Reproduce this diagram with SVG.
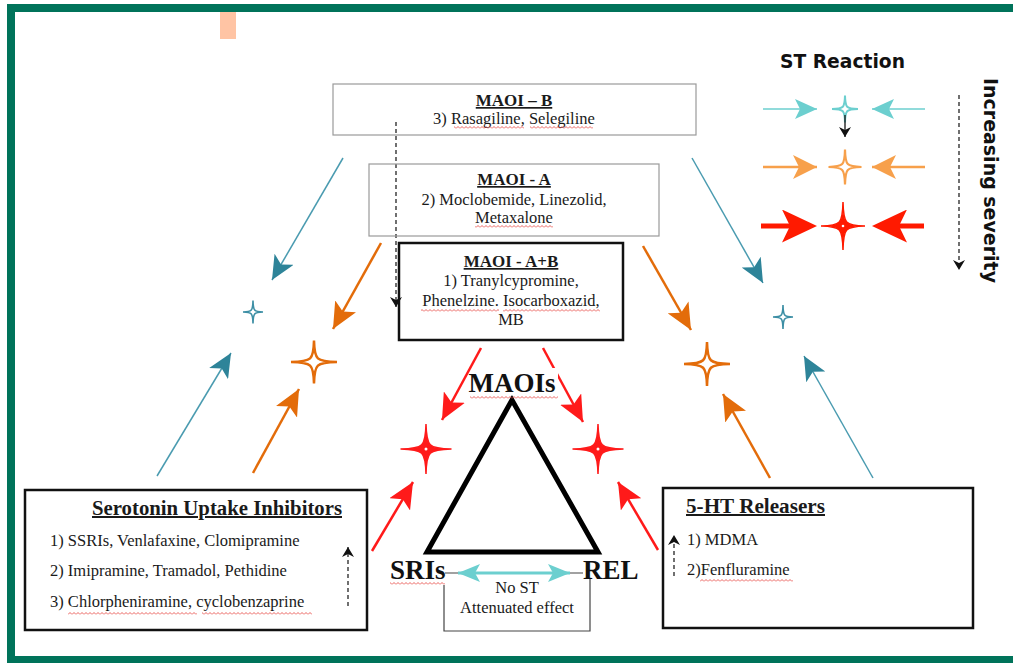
<svg xmlns="http://www.w3.org/2000/svg" width="1013" height="663" viewBox="0 0 1013 663">
<style>
.t{font-family:"Liberation Serif","Times New Roman",serif;font-size:16.5px;fill:#1a1a1a}
.h{font-weight:bold;text-decoration:underline;font-size:17px}
.hh{font-weight:bold;text-decoration:underline;font-size:20px}
.big{font-family:"Liberation Serif","Times New Roman",serif;font-size:27px;font-weight:bold;fill:#111}
.sans{font-family:"DejaVu Sans","Liberation Sans",sans-serif;font-weight:bold;fill:#111}
.teal{stroke:#4a9bb0;stroke-width:1.5;fill:none}
.orange{stroke:#e36c0a;stroke-width:2.5;fill:none}
.red{stroke:#ff1a1a;stroke-width:2.5;fill:none}
.dash{stroke:#111;stroke-width:1.2;stroke-dasharray:4 3;fill:none}
.box{fill:none;stroke:#9a9a9a;stroke-width:1.2}
.bbox{fill:none;stroke:#111;stroke-width:2.5}
.wv{fill:url(#wv)}
</style>
<defs>
<pattern id="wv" width="4" height="3" patternUnits="userSpaceOnUse"><path d="M0,2.5 L2,0.5 L4,2.5" stroke="#e53935" stroke-width="0.8" fill="none"/></pattern>
<path id="star" d="M0,-1 C0.02,-0.1 0.1,-0.02 1,0 C0.1,0.02 0.02,0.1 0,1 C-0.02,0.1 -0.1,0.02 -1,0 C-0.1,-0.02 -0.02,-0.1 0,-1 Z" vector-effect="non-scaling-stroke" stroke-linejoin="miter"/>
<marker id="mTeal" markerUnits="userSpaceOnUse" viewBox="0 0 24 22" markerWidth="24" markerHeight="22" refX="24" refY="11" orient="auto"><path d="M0,0 L24,11 L0,22 L6,11 Z" fill="#2e8499"/></marker>
<marker id="mOrange" markerUnits="userSpaceOnUse" viewBox="0 0 26 24" markerWidth="26" markerHeight="24" refX="26" refY="12" orient="auto"><path d="M0,0 L26,12 L0,24 L6,12 Z" fill="#e36c0a"/></marker>
<marker id="mRed" markerUnits="userSpaceOnUse" viewBox="0 0 26 24" markerWidth="26" markerHeight="24" refX="26" refY="12" orient="auto"><path d="M0,0 L26,12 L0,24 L6,12 Z" fill="#ff1a1a"/></marker>
<marker id="mCyanL" markerUnits="userSpaceOnUse" viewBox="0 0 22 20" markerWidth="22" markerHeight="20" refX="22" refY="10" orient="auto"><path d="M0,0 L22,10 L0,20 L5,10 Z" fill="#6ccfcf"/></marker>
<marker id="mOrangeL" markerUnits="userSpaceOnUse" viewBox="0 0 24 24" markerWidth="24" markerHeight="24" refX="24" refY="12" orient="auto"><path d="M0,0 L24,12 L0,24 L6,12 Z" fill="#f7a04b"/></marker>
<marker id="mRedL" markerUnits="userSpaceOnUse" viewBox="0 0 35 33" markerWidth="35" markerHeight="33" refX="20" refY="16.5" orient="auto"><path d="M0,0 L35,16.5 L0,33 L8,16.5 Z" fill="#ff1a00"/></marker>
<marker id="mCyan2" markerUnits="userSpaceOnUse" viewBox="0 0 22 18" markerWidth="22" markerHeight="18" refX="22" refY="9" orient="auto-start-reverse"><path d="M0,0 L22,9 L0,18 L5,9 Z" fill="#6ccfcf"/></marker>
<marker id="mBlk" markerUnits="userSpaceOnUse" viewBox="0 0 10 12" markerWidth="10" markerHeight="12" refX="10" refY="6" orient="auto"><path d="M0,0 L10,6 L0,12 L3,6 Z" fill="#111"/></marker>
</defs>

<rect width="1013" height="663" fill="#fff"/>
<rect x="11" y="8" width="1010" height="652" fill="none" stroke="#00735a" stroke-width="8"/>
<rect x="220" y="12" width="16" height="27" fill="#ffc4a4"/>

<g id="connectors">
  <line class="teal" x1="343" y1="158" x2="272" y2="280" marker-end="url(#mTeal)"/>
  <line class="teal" x1="157" y1="476" x2="231" y2="353" marker-end="url(#mTeal)"/>
  <line class="teal" x1="692" y1="158" x2="763" y2="283" marker-end="url(#mTeal)"/>
  <line class="teal" x1="873" y1="478" x2="804" y2="356" marker-end="url(#mTeal)"/>
  <line class="orange" x1="381" y1="243" x2="333" y2="329" marker-end="url(#mOrange)"/>
  <line class="orange" x1="253" y1="473" x2="299" y2="389" marker-end="url(#mOrange)"/>
  <line class="orange" x1="643" y1="246" x2="691" y2="330" marker-end="url(#mOrange)"/>
  <line class="orange" x1="770" y1="478" x2="723" y2="394" marker-end="url(#mOrange)"/>
  <line class="red" x1="481" y1="348" x2="442" y2="420" marker-end="url(#mRed)"/>
  <line class="red" x1="543" y1="348" x2="583" y2="422" marker-end="url(#mRed)"/>
  <line class="red" x1="372" y1="551" x2="413" y2="482" marker-end="url(#mRed)"/>
  <line class="red" x1="658" y1="550" x2="618" y2="482" marker-end="url(#mRed)"/>
  <line class="dash" x1="396" y1="122" x2="396" y2="307" marker-end="url(#mBlk)"/>
  <line class="dash" x1="348" y1="606" x2="348" y2="547" marker-end="url(#mBlk)"/>
  <line class="dash" x1="674" y1="576" x2="674" y2="535" marker-end="url(#mBlk)"/>
</g>

<g id="stars">
  <use href="#star" transform="translate(253,312) scale(10,11.5)" fill="#fff" stroke="#3d8fa5" stroke-width="1.6"/>
  <use href="#star" transform="translate(783,317) scale(10,12)" fill="#fff" stroke="#3d8fa5" stroke-width="1.6"/>
  <use href="#star" transform="translate(314,362) scale(23,21.5)" fill="#fff" stroke="#e36c0a" stroke-width="2.5"/>
  <use href="#star" transform="translate(707,364) scale(23,22)" fill="#fff" stroke="#e36c0a" stroke-width="2.5"/>
  <use href="#star" transform="translate(426,449) scale(25.5,25)" fill="#ff1a1a" stroke="#ff1a1a" stroke-width="1.5"/>
  <use href="#star" transform="translate(598,449) scale(25.5,25)" fill="#ff1a1a" stroke="#ff1a1a" stroke-width="1.5"/>
  <circle cx="426" cy="449" r="1.5" fill="#fff"/>
  <circle cx="598" cy="449" r="1.5" fill="#fff"/>
</g>

<g id="maoi-b">
  <rect class="box" x="333" y="84" width="363" height="51"/>
  <text class="t h" x="514" y="106" text-anchor="middle">MAOI – B</text>
  <text class="t" x="514" y="124" text-anchor="middle">3) Rasagiline, Selegiline</text>
  <rect class="wv" x="454" y="126" width="70" height="3"/>
  <rect class="wv" x="530" y="126" width="63" height="3"/>
</g>

<g id="maoi-a">
  <rect class="box" x="369" y="164" width="290" height="72"/>
  <text class="t h" x="514" y="185" text-anchor="middle">MAOI - A</text>
  <text class="t" x="514" y="205" text-anchor="middle">2) Moclobemide, Linezolid,</text>
  <text class="t" x="514" y="223" text-anchor="middle">Metaxalone</text>
  <rect class="wv" x="475" y="225" width="78" height="3"/>
</g>

<g id="maoi-ab">
  <rect class="bbox" x="399" y="243" width="224" height="97" fill="#fff"/>
  <text class="t h" x="511" y="267" text-anchor="middle">MAOI - A+B</text>
  <text class="t" x="511" y="286" text-anchor="middle">1) Tranylcypromine,</text>
  <text class="t" x="511" y="306" text-anchor="middle">Phenelzine. Isocarboxazid,</text>
  <text class="t" x="511" y="325" text-anchor="middle">MB</text>
  <rect class="wv" x="421" y="309" width="78" height="3"/>
  <rect class="wv" x="503" y="309" width="97" height="3"/>
</g>

<g id="triangle">
  <polygon points="512,400 427,552 598,552" fill="none" stroke="#000" stroke-width="5"/>
</g>

<g id="maois-label">
  <rect x="472" y="368" width="86" height="26" fill="#fff"/>
  <text class="big" x="512" y="392" text-anchor="middle">MAOIs</text>
  <rect class="wv" x="470" y="396" width="88" height="3"/>
</g>

<g id="sris-label">
  <text class="big" x="390" y="579">SRIs</text>
  <rect class="wv" x="390" y="582" width="55" height="3"/>
</g>

<g id="rel-label">
  <text class="big" x="583" y="579">REL</text>
</g>

<g id="no-st">
  <path d="M445,573 H583 M444,585 V631 H590 V579" fill="none" stroke="#444" stroke-width="1.2"/>
  <line x1="458" y1="573" x2="570" y2="573" stroke="#6ccfcf" stroke-width="3" marker-start="url(#mCyan2)" marker-end="url(#mCyan2)"/>
  <text class="t" x="517" y="593" text-anchor="middle">No ST</text>
  <text class="t" x="517" y="613" text-anchor="middle">Attenuated effect</text>
</g>

<g id="sui">
  <rect class="bbox" x="25" y="490" width="342" height="140"/>
  <text class="t hh" x="92" y="515" textLength="250" lengthAdjust="spacingAndGlyphs">Serotonin Uptake Inhibitors</text>
  <text class="t" x="50" y="546">1) SSRIs, Venlafaxine, Clomipramine</text>
  <text class="t" x="50" y="576">2) Imipramine, Tramadol, Pethidine</text>
  <text class="t" x="50" y="607">3) Chlorpheniramine, cyclobenzaprine</text>
  <rect class="wv" x="68" y="612" width="129" height="3"/>
  <rect class="wv" x="202" y="612" width="110" height="3"/>
</g>

<g id="releasers">
  <rect class="bbox" x="663" y="488" width="310" height="140"/>
  <text class="t hh" x="686" y="513" textLength="139" lengthAdjust="spacingAndGlyphs">5-HT Releasers</text>
  <text class="t" x="687" y="545">1) MDMA</text>
  <text class="t" x="687" y="575">2)Fenfluramine</text>
  <rect class="wv" x="700" y="579" width="93" height="3"/>
</g>

<g id="legend">
  <text class="sans" x="780" y="68" font-size="20" textLength="125" lengthAdjust="spacingAndGlyphs">ST Reaction</text>
  <line x1="763" y1="109" x2="817" y2="109" stroke="#6ccfcf" stroke-width="1.5" marker-end="url(#mCyanL)"/>
  <line x1="925" y1="109" x2="872" y2="109" stroke="#6ccfcf" stroke-width="1.5" marker-end="url(#mCyanL)"/>
  <use href="#star" transform="translate(845,109) scale(13,13.5)" fill="#fff" stroke="#6ccfcf" stroke-width="2"/>
  <line x1="845" y1="115" x2="845" y2="137" stroke="#111" stroke-width="1.3" marker-end="url(#mBlk)"/>
  <line x1="763" y1="167" x2="817" y2="167" stroke="#f7a04b" stroke-width="2.5" marker-end="url(#mOrangeL)"/>
  <line x1="925" y1="167" x2="872" y2="167" stroke="#f7a04b" stroke-width="2.5" marker-end="url(#mOrangeL)"/>
  <use href="#star" transform="translate(845,167) scale(16.5,17.5)" fill="#fff" stroke="#f7a04b" stroke-width="2.2"/>
  <line x1="761" y1="226" x2="802" y2="226" stroke="#ff1a00" stroke-width="5" marker-end="url(#mRedL)"/>
  <line x1="924" y1="226" x2="887" y2="226" stroke="#ff1a00" stroke-width="5" marker-end="url(#mRedL)"/>
  <use href="#star" transform="translate(843,226) scale(22,24)" fill="#ff1a00" stroke="#ff1a00" stroke-width="1.5"/>
  <circle cx="843" cy="226" r="1.3" fill="#fff"/>
  <line class="dash" x1="959" y1="95" x2="959" y2="270" marker-end="url(#mBlk)"/>
  <text class="sans" font-size="20" transform="translate(984,78) rotate(90)" textLength="205" lengthAdjust="spacingAndGlyphs">Increasing severity</text>
</g>
</svg>
